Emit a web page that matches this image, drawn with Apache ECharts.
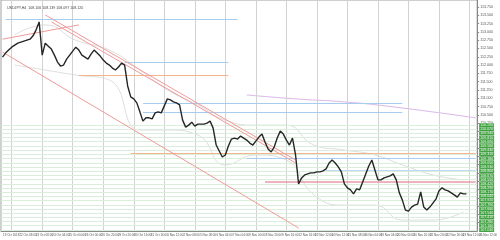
<!DOCTYPE html>
<html><head><meta charset="utf-8">
<script src="https://cdn.jsdelivr.net/npm/echarts@6/dist/echarts.min.js"></script>
<style>html,body{margin:0;padding:0;background:#fff}#c{width:500px;height:240px}</style>
</head><body><div id="c"></div>
<script>
const symbolTitle = 'USDJPY,H4  108.106 108.139 108.097 108.120';
const closes = [
112.24,112.36,112.45,112.54,112.60,112.66,112.69,112.72,112.75,112.78,
112.88,113.06,113.30,112.30,112.66,112.57,112.48,112.30,112.09,111.97,
112.00,112.18,112.30,112.42,112.54,112.45,112.30,112.24,112.18,112.33,
112.45,112.36,112.27,112.15,112.06,112.00,111.91,111.85,111.94,112.06,
112.00,111.37,111.04,110.98,110.86,110.59,110.31,110.41,110.41,110.38,
110.56,110.59,110.56,110.77,110.98,110.95,110.89,110.86,110.80,110.34,
110.13,110.19,110.28,110.16,110.22,110.22,110.22,110.25,110.31,110.10,
109.59,109.41,109.23,109.29,109.56,109.77,109.80,109.77,109.86,109.80,
109.74,109.65,109.59,109.71,109.83,109.92,109.68,109.47,109.38,109.53,
109.80,110.01,109.92,109.74,109.59,109.80,109.29,108.42,108.60,108.69,
108.72,108.75,108.75,108.78,108.78,108.81,108.87,109.05,109.14,109.05,
108.93,108.78,108.42,108.30,108.24,108.12,108.27,108.24,108.48,108.72,
108.96,109.14,108.84,108.54,108.54,108.60,108.63,108.66,108.72,108.54,
108.15,107.93,107.63,107.60,107.72,107.78,107.81,108.18,107.72,107.63,
107.72,107.84,107.96,108.21,108.30,108.24,108.21,108.15,108.09,108.02,
108.15,108.12,108.12];
const timeLabels = ['19 Oct 2018','22 Oct 08:00','23 Oct 08:00','24 Oct 04:00','25 Oct 04:00','26 Oct 00:00','26 Oct 20:00','29 Oct 20:00','30 Oct 16:00','31 Oct 16:00','1 Nov 12:00','2 Nov 08:00','5 Nov 08:00','6 Nov 04:00','7 Nov 04:00','8 Nov 00:00','8 Nov 20:00','9 Nov 16:00','12 Nov 16:00','13 Nov 12:00','14 Nov 12:00','15 Nov 08:00','16 Nov 04:00','19 Nov 04:00','20 Nov 00:00','20 Nov 20:00','21 Nov 20:00','22 Nov 16:00','23 Nov 12:00','26 Nov 12:00'];
const priceMin = 107.0, priceMax = 113.96, priceStep = 0.25;
const barCount = 156;
const gridBars = [3,13,23,33,43,53,63,73,83,93,103,113,123,133,143,153];
const greenLevels = [110.19,110.07,109.94,109.81,109.69,109.56,109.43,109.31,109.18,109.05,108.93,108.80,108.67,108.55,108.42,108.29,108.17,108.04,107.92,107.79,107.66,107.54,107.41,107.28,107.16,107.03];
const hSegStart = [1,40,25,46,46,42,80,106,86];
const hSegEnd = [77,74,74,131,131,155,155,155,155];
const hSegPrice = [113.39,112.09,111.70,110.86,110.59,109.35,109.20,108.84,108.48];
const hSegKind = ['blue','blue','orange','blue','blue','orange','blue','lightblue','pink'];
const trendStartBar = [0,14,16,0];
const trendStartPrice = [112.78,113.51,113.30,112.39];
const trendEndBar = [25,96,96,97];
const trendEndPrice = [113.21,109.14,109.05,107.09];
const bandBars = [4,14,24,35,45,54,64,73,83,93,102,112,122,131,141,151];
const bandUpper = [112.91,113.21,112.75,112.45,111.85,111.25,110.80,110.34,110.19,110.19,109.59,109.44,109.29,108.99,108.69,108.54];
const bandLower = [112.00,111.85,111.70,111.55,110.04,110.04,109.89,108.99,109.29,109.14,108.09,107.78,107.78,107.33,107.33,107.57];
const maBars = [80,96,112,128,155];
const maValues = [111.10,110.98,110.89,110.74,110.41];

const kindColor = {blue:'#a6ccf0', lightblue:'#bcdaf4', orange:'#f4b48c', pink:'#e79aa8'};
const kindWidth = {blue:1, lightblue:1, orange:1.2, pink:1.6};

const cats = Array.from({length: barCount}, (_, i) => i);
const markData = [];
gridBars.forEach(b => markData.push({
  xAxis: b, lineStyle: {color:'#d2d2d2', width:1, type:'solid'}, label:{show:false}
}));
greenLevels.forEach(v => markData.push({
  yAxis: v,
  lineStyle: {color:'#d9efd9', width:1, type:'solid'},
  label: {show:true, position:'end', formatter: v.toFixed(3), backgroundColor:'#44a044', color:'#e8ffe8', fontSize:3.6, padding:[0,1], distance:2, fontFamily:'Liberation Sans'}
}));
hSegPrice.forEach((p, k) => markData.push([
  {coord:[hSegStart[k], p], lineStyle:{color:kindColor[hSegKind[k]], width:kindWidth[hSegKind[k]], type:'solid'}},
  {coord:[hSegEnd[k], p]}
]));
trendStartBar.forEach((b, k) => markData.push([
  {coord:[b, trendStartPrice[k]], lineStyle:{color:'#f09a9a', width:1, type:'solid'}},
  {coord:[trendEndBar[k], trendEndPrice[k]]}
]));

const chart = echarts.init(document.getElementById('c'), null, {renderer:'canvas'});
chart.setOption({
  animation: false,
  backgroundColor: '#ffffff',
  textStyle: {fontFamily: 'Liberation Sans'},
  title: {text: symbolTitle, left: 2, top: 1, textStyle: {fontSize: 3.6, color: '#444', fontWeight: 'normal'}},
  grid: {left: 0, right: 15, top: 0, bottom: 9, show: true, borderColor: '#a0a0a0', borderWidth: 1},
  xAxis: [
    {type:'category', data: cats, boundaryGap: true,
     axisLine:{show:true, lineStyle:{color:'#888'}}, axisTick:{show:false}, axisLabel:{show:false},
     splitLine:{show:false}},
    {type:'category', data: timeLabels, boundaryGap: false, position:'bottom',
     axisLine:{show:false}, axisTick:{show:false}, splitLine:{show:false},
     axisLabel:{show:true, interval:0, align:'left', fontSize:3, color:'#555', margin:3, padding:[0,0,0,2]}}
  ],
  yAxis: {type:'value', position:'right', min: priceMin, max: priceMax, interval: priceStep, scale:true,
    axisLine:{show:true, lineStyle:{color:'#888'}}, axisTick:{show:true, length:2, lineStyle:{color:'#888'}},
    splitLine:{show:false},
    axisLabel:{show:true, showMinLabel:false, showMaxLabel:false, fontSize:3.6, color:'#555', margin:3, formatter:(v)=>v.toFixed(3)}},
  series: [
    {type:'line', name:'levels', data: [], z:1, silent:true,
     markLine:{silent:true, symbol:['none','none'], animation:false, label:{show:false}, data: markData}},
    {type:'line', name:'ma', data: maBars.map((b,k)=>[b, maValues[k]]), smooth:true, showSymbol:false, z:2,
     lineStyle:{color:'#dcb6ea', width:1}},
    {type:'line', name:'upper', data: bandBars.map((b,k)=>[b, bandUpper[k]]), smooth:true, showSymbol:false, z:2,
     lineStyle:{color:'#dedede', width:1}},
    {type:'line', name:'lower', data: bandBars.map((b,k)=>[b, bandLower[k]]), smooth:true, showSymbol:false, z:2,
     lineStyle:{color:'#dedede', width:1}},
    {type:'line', name:'price', data: closes, showSymbol:false, z:5,
     lineStyle:{color:'#262626', width:1.4}}
  ]
});
</script></body></html>
